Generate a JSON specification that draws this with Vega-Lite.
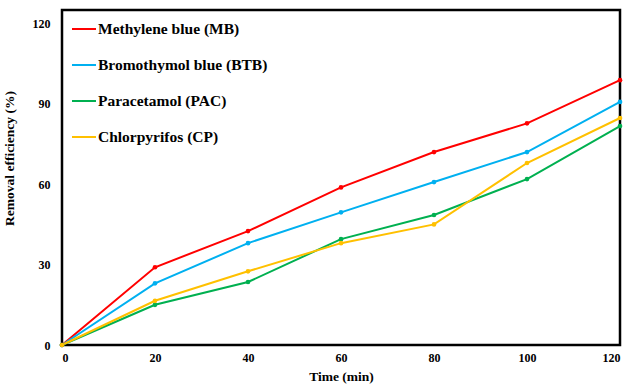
{
  "$schema": "https://vega.github.io/schema/vega-lite/v6.json",
  "width": 558,
  "height": 335,
  "autosize": "none",
  "padding": {"left": 62, "top": 10, "right": 12, "bottom": 40},
  "background": "white",
  "config": {
    "font": "Liberation Serif",
    "view": {"stroke": "black", "strokeWidth": 2.5},
    "axis": {"grid": false, "domain": false, "ticks": false, "labelFont": "Liberation Serif", "labelFontWeight": "bold", "labelFontSize": 12, "labelColor": "black", "titleFont": "Liberation Serif", "titleFontWeight": "bold", "titleFontSize": 13.5, "titleColor": "black"}
  },
  "data": {
    "values": [
      {"t": 0, "v": 0, "s": "Methylene blue (MB)"},
      {"t": 20, "v": 29, "s": "Methylene blue (MB)"},
      {"t": 40, "v": 42.5, "s": "Methylene blue (MB)"},
      {"t": 60, "v": 58.8, "s": "Methylene blue (MB)"},
      {"t": 80, "v": 72, "s": "Methylene blue (MB)"},
      {"t": 100, "v": 82.7, "s": "Methylene blue (MB)"},
      {"t": 120, "v": 98.8, "s": "Methylene blue (MB)"},
      {"t": 0, "v": 0, "s": "Bromothymol blue (BTB)"},
      {"t": 20, "v": 23, "s": "Bromothymol blue (BTB)"},
      {"t": 40, "v": 38, "s": "Bromothymol blue (BTB)"},
      {"t": 60, "v": 49.5, "s": "Bromothymol blue (BTB)"},
      {"t": 80, "v": 60.8, "s": "Bromothymol blue (BTB)"},
      {"t": 100, "v": 72, "s": "Bromothymol blue (BTB)"},
      {"t": 120, "v": 90.7, "s": "Bromothymol blue (BTB)"},
      {"t": 0, "v": 0, "s": "Paracetamol (PAC)"},
      {"t": 20, "v": 15, "s": "Paracetamol (PAC)"},
      {"t": 40, "v": 23.5, "s": "Paracetamol (PAC)"},
      {"t": 60, "v": 39.5, "s": "Paracetamol (PAC)"},
      {"t": 80, "v": 48.5, "s": "Paracetamol (PAC)"},
      {"t": 100, "v": 61.9, "s": "Paracetamol (PAC)"},
      {"t": 120, "v": 81.7, "s": "Paracetamol (PAC)"},
      {"t": 0, "v": 0, "s": "Chlorpyrifos (CP)"},
      {"t": 20, "v": 16.5, "s": "Chlorpyrifos (CP)"},
      {"t": 40, "v": 27.5, "s": "Chlorpyrifos (CP)"},
      {"t": 60, "v": 38, "s": "Chlorpyrifos (CP)"},
      {"t": 80, "v": 45, "s": "Chlorpyrifos (CP)"},
      {"t": 100, "v": 67.9, "s": "Chlorpyrifos (CP)"},
      {"t": 120, "v": 84.7, "s": "Chlorpyrifos (CP)"}
    ]
  },
  "encoding": {
    "x": {"field": "t", "type": "quantitative", "scale": {"domain": [0, 120], "nice": false}, "axis": {"values": [0, 20, 40, 60, 80, 100, 120], "title": "Time (min)", "titlePadding": 6, "labelPadding": 7}},
    "y": {"field": "v", "type": "quantitative", "scale": {"domain": [0, 125], "nice": false}, "axis": {"values": [0, 30, 60, 90, 120], "title": "Removal efficiency (%)", "titleX": -46, "titleY": 148, "labelPadding": 12}},
    "color": {"field": "s", "type": "nominal", "scale": {"domain": ["Methylene blue (MB)", "Bromothymol blue (BTB)", "Paracetamol (PAC)", "Chlorpyrifos (CP)"], "range": ["#FF0000", "#00B0F0", "#00B050", "#FFC000"]},
      "legend": {"title": null, "orient": "none", "legendX": 9, "legendY": 6, "symbolType": "stroke", "symbolSize": 576, "symbolStrokeWidth": 2, "labelFont": "Liberation Serif", "labelFontWeight": "bold", "labelFontSize": 15.5, "labelColor": "black", "labelLimit": 400, "rowPadding": 14, "labelOffset": 1}}
  },
  "layer": [
    {"mark": {"type": "line", "strokeWidth": 2}},
    {"mark": {"type": "point", "filled": true, "size": 22, "opacity": 1}}
  ]
}
